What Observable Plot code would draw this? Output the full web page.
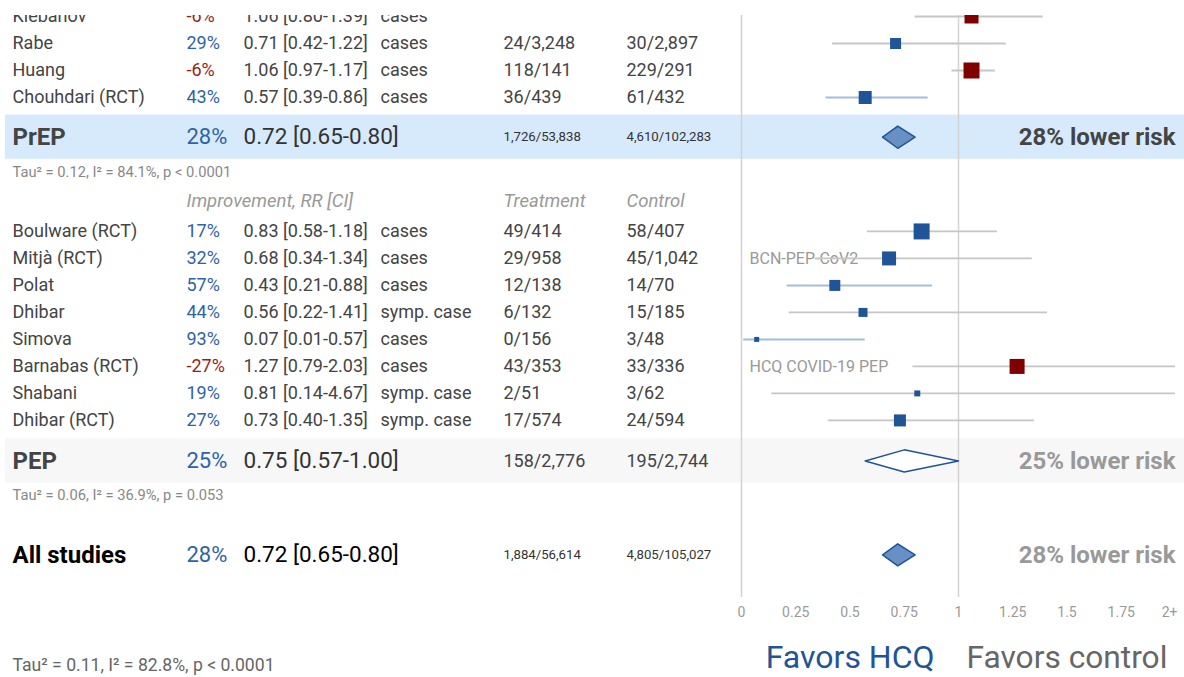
<!DOCTYPE html>
<html><head><meta charset="utf-8">
<script src="https://cdn.jsdelivr.net/npm/d3@7"></script>
<script src="https://cdn.jsdelivr.net/npm/@observablehq/plot@0.6"></script>
<style>
html,body{margin:0;padding:0;background:#fff;}
#chart{width:1184px;height:677px;overflow:hidden;}
svg{display:block;}
</style></head><body><div id="chart"></div>
<script>
// ---- data ----
const studyNames = ["Klebanov","Rabe","Huang","Chouhdari (RCT)","Boulware (RCT)","Mitjà (RCT)","Polat","Dhibar","Simova","Barnabas (RCT)","Shabani","Dhibar (RCT)"];
const studyGroups = ["PrEP","PrEP","PrEP","PrEP","PEP","PEP","PEP","PEP","PEP","PEP","PEP","PEP"];
const improvements = ["-6%","29%","-6%","43%","17%","32%","57%","44%","93%","-27%","19%","27%"];
const riskRatios = [1.06,0.71,1.06,0.57,0.83,0.68,0.43,0.56,0.07,1.27,0.81,0.73];
const ciLows = [0.80,0.42,0.97,0.39,0.58,0.34,0.21,0.22,0.01,0.79,0.14,0.40];
const ciHighs = [1.39,1.22,1.17,0.86,1.18,1.34,0.88,1.41,0.57,2.03,4.67,1.35];
const endpoints = ["cases","cases","cases","cases","cases","cases","cases","symp. case","cases","cases","symp. case","symp. case"];
const treatmentCounts = ["","24/3,248","118/141","36/439","49/414","29/958","12/138","6/132","0/156","43/353","2/51","17/574"];
const controlCounts = ["","30/2,897","229/291","61/432","58/407","45/1,042","14/70","15/185","3/48","33/336","3/62","24/594"];
const studyWeights = [196,121,256,169,256,196,121,81,25,225,36,144];
const trialAcronyms = ["","","","","","BCN-PEP-CoV2","","","","HCQ COVID-19 PEP","",""];

const summaryNames = ["PrEP","PEP","All studies"];
const summaryImprovements = ["28%","25%","28%"];
const summaryRR = [0.72,0.75,0.72];
const summaryLows = [0.65,0.57,0.65];
const summaryHighs = [0.80,1.00,0.80];
const summaryTreatment = ["1,726/53,838","158/2,776","1,884/56,614"];
const summaryControl = ["4,610/102,283","195/2,744","4,805/105,027"];
const summaryVerdicts = ["28% lower risk","25% lower risk","28% lower risk"];
const heterogeneity = ["Tau² = 0.12, I² = 84.1%, p < 0.0001","Tau² = 0.06, I² = 36.9%, p = 0.053","Tau² = 0.11, I² = 82.8%, p < 0.0001"];

const columnHeaders = ["Improvement, RR [CI]","Treatment","Control"];
const tickValues = [0,0.25,0.5,0.75,1,1.25,1.5,1.75,2];
const tickLabels = ["0","0.25","0.5","0.75","1","1.25","1.5","1.75","2+"];
const favorLabels = ["Favors HCQ","Favors control"];

// ---- layout (row units) ----
const groupStart = {PrEP: 0, PEP: 7.96};
const counters = {PrEP: 0, PEP: 0};
const studies = studyNames.map((name, i) => {
  const g = studyGroups[i];
  const pos = groupStart[g] + counters[g]++;
  return {name, group: g, imp: improvements[i], rr: riskRatios[i], lo: ciLows[i], hi: ciHighs[i],
    rrText: `${riskRatios[i].toFixed(2)} [${ciLows[i].toFixed(2)}-${ciHighs[i].toFixed(2)}]`,
    endpoint: endpoints[i], treat: treatmentCounts[i], ctrl: controlCounts[i], weight: studyWeights[i],
    acronym: trialAcronyms[i], pos};
});
const summaryPos = [4.47, 16.46, 19.94];
const tauPos = [5.78, 17.74, 24.03];
const headerPos = 6.85;
const summaries = summaryNames.map((name, i) => ({
  name, imp: summaryImprovements[i], rr: summaryRR[i], lo: summaryLows[i], hi: summaryHighs[i],
  rrText: `${summaryRR[i].toFixed(2)} [${summaryLows[i].toFixed(2)}-${summaryHighs[i].toFixed(2)}]`,
  treat: summaryTreatment[i], ctrl: summaryControl[i], verdict: summaryVerdicts[i], pos: summaryPos[i], idx: i
}));
const bands = [
  {y1: summaryPos[0] - 0.82, y2: summaryPos[0] + 0.82, fill: "#d7eafc"},
  {y1: summaryPos[1] - 0.82, y2: summaryPos[1] + 0.82, fill: "#f7f7f7"}
];
const taus = heterogeneity.map((t, i) => ({t, pos: tauPos[i], footer: i === 2}));

const BLUE = "#1f5597", RED = "#800000", TXT = "#444";
const font = "Roboto";
const cols = {name: 12, imp: 186, rr: 243, endpoint: 380, treat: 503, ctrl: 626};
const FS = 18;

function diamond(s, fill) {
  const h = 0.41;
  const pts = [[s.lo, s.pos], [s.rr, s.pos - h], [s.hi, s.pos], [s.rr, s.pos + h], [s.lo, s.pos]];
  return Plot.line(pts, {x: d => d[0], y: d => d[1], fill, stroke: BLUE, strokeWidth: 1.5, curve: "linear"});
}

const textCol = (data, field, dx, opts = {}) => Plot.text(data, {
  y: "pos", text: field, frameAnchor: "left", textAnchor: "start", dx,
  fontSize: FS, fill: TXT, clip: true, ...opts
});

const chart = Plot.plot({
  width: 1184, height: 677,
  marginTop: 15, marginBottom: 79, marginLeft: 0, marginRight: 0,
  style: {fontFamily: font, background: "#fff"},
  x: {domain: [0, 2], range: [741, 1175], clamp: true, axis: null},
  y: {domain: [0, 24], range: [16, 16 + 24 * 27], axis: null},
  r: {type: "sqrt", domain: [0, 256], range: [0, 16 / Math.sqrt(Math.PI)]},
  marks: [
    Plot.rect(bands, {y1: "y1", y2: "y2", fill: "fill", insetLeft: 5}),
    Plot.ruleX([0, 1], {y1: -1, y2: 21.52, stroke: "#d2d2d2", strokeWidth: 1.5, clip: true}),
    // acronyms
    Plot.text(studies.filter(d => d.acronym), {x: 0, y: "pos", text: "acronym", dx: 8, textAnchor: "start", fontSize: 16, fill: "#999"}),
    // CI lines
    Plot.ruleY(studies.filter(d => d.hi >= 1), {y: "pos", x1: "lo", x2: "hi", stroke: "#c6c6c6", strokeWidth: 1.8, clip: true}),
    Plot.ruleY(studies.filter(d => d.hi < 1), {y: "pos", x1: "lo", x2: "hi", stroke: "#a5bcdb", strokeWidth: 2, clip: true}),
    // squares
    Plot.dot(studies.filter(d => d.rr < 1), {x: "rr", y: "pos", r: "weight", symbol: "square", fill: BLUE, clip: true}),
    Plot.dot(studies.filter(d => d.rr >= 1), {x: "rr", y: "pos", r: "weight", symbol: "square", fill: RED, clip: true}),
    // diamonds
    diamond(summaries[0], "#6890c4"),
    diamond(summaries[1], "#ffffff"),
    diamond(summaries[2], "#6890c4"),
    // study table
    textCol(studies, "name", cols.name),
    textCol(studies.filter(d => !d.imp.startsWith("-")), "imp", cols.imp, {fill: "#2e63a6"}),
    textCol(studies.filter(d => d.imp.startsWith("-")), "imp", cols.imp, {fill: "#9b1b1b"}),
    textCol(studies, "rrText", cols.rr),
    textCol(studies, "endpoint", cols.endpoint),
    textCol(studies, "treat", cols.treat),
    textCol(studies, "ctrl", cols.ctrl),
    // header
    Plot.text([{pos: headerPos}], {y: "pos", text: () => columnHeaders[0], frameAnchor: "left", textAnchor: "start", dx: cols.imp, fontSize: 18.5, fontStyle: "italic", fill: "#999"}),
    Plot.text([{pos: headerPos}], {y: "pos", text: () => columnHeaders[1], frameAnchor: "left", textAnchor: "start", dx: cols.treat, fontSize: 18.5, fontStyle: "italic", fill: "#999"}),
    Plot.text([{pos: headerPos}], {y: "pos", text: () => columnHeaders[2], frameAnchor: "left", textAnchor: "start", dx: cols.ctrl, fontSize: 18.5, fontStyle: "italic", fill: "#999"}),
    // summary rows
    textCol(summaries.slice(0, 2), "name", cols.name, {fontSize: 24, fontWeight: "bold", fill: TXT}),
    textCol(summaries.slice(2), "name", cols.name, {fontSize: 24, fontWeight: "bold", fill: "#000"}),
    textCol(summaries, "imp", cols.imp, {fontSize: 22, fill: "#2e63a6"}),
    textCol(summaries.slice(0, 2), "rrText", cols.rr, {fontSize: 22.5, fill: "#333"}),
    textCol(summaries.slice(2), "rrText", cols.rr, {fontSize: 22.5, fill: "#000"}),
    textCol(summaries.filter(d => d.treat.length > 9), "treat", cols.treat, {fontSize: 13.2, fill: "#333"}),
    textCol(summaries.filter(d => d.treat.length > 9), "ctrl", cols.ctrl, {fontSize: 13.2, fill: "#333"}),
    textCol(summaries.filter(d => d.treat.length <= 9), "treat", cols.treat, {fill: TXT}),
    textCol(summaries.filter(d => d.treat.length <= 9), "ctrl", cols.ctrl, {fill: TXT}),
    Plot.text(summaries, {y: "pos", text: "verdict", frameAnchor: "right", textAnchor: "end", dx: -9, fontSize: 24, fontWeight: "bold", fill: d => d.idx === 0 ? "#444" : "#999"}),
    // heterogeneity
    Plot.text(taus.filter(d => !d.footer), {y: "pos", text: "t", frameAnchor: "left", textAnchor: "start", dx: 12, fontSize: 14.7, fill: "#888"}),
    Plot.text(taus.filter(d => d.footer), {y: "pos", text: "t", frameAnchor: "left", textAnchor: "start", dx: 12, fontSize: 17.6, fill: "#666"}),
    // axis labels
    Plot.text(tickValues.slice(0, -1), {x: d => d, y: () => 22.06, text: (d, i) => tickLabels[i], fontSize: 14, fill: "#9a9a9a"}),
    Plot.text(tickValues.slice(-1), {x: d => d, y: () => 22.06, text: () => tickLabels[tickLabels.length - 1], textAnchor: "end", dx: 2, fontSize: 14, fill: "#9a9a9a"}),
    // favors
    Plot.text([1], {x: d => d, y: () => 23.74, text: () => favorLabels[0], textAnchor: "end", dx: -24, fontSize: 32, fill: BLUE}),
    Plot.text([1], {x: d => d, y: () => 23.74, text: () => favorLabels[1], textAnchor: "start", dx: 8, fontSize: 31.7, fill: "#666"})
  ]
});
document.getElementById("chart").append(chart);
</script></body></html>
